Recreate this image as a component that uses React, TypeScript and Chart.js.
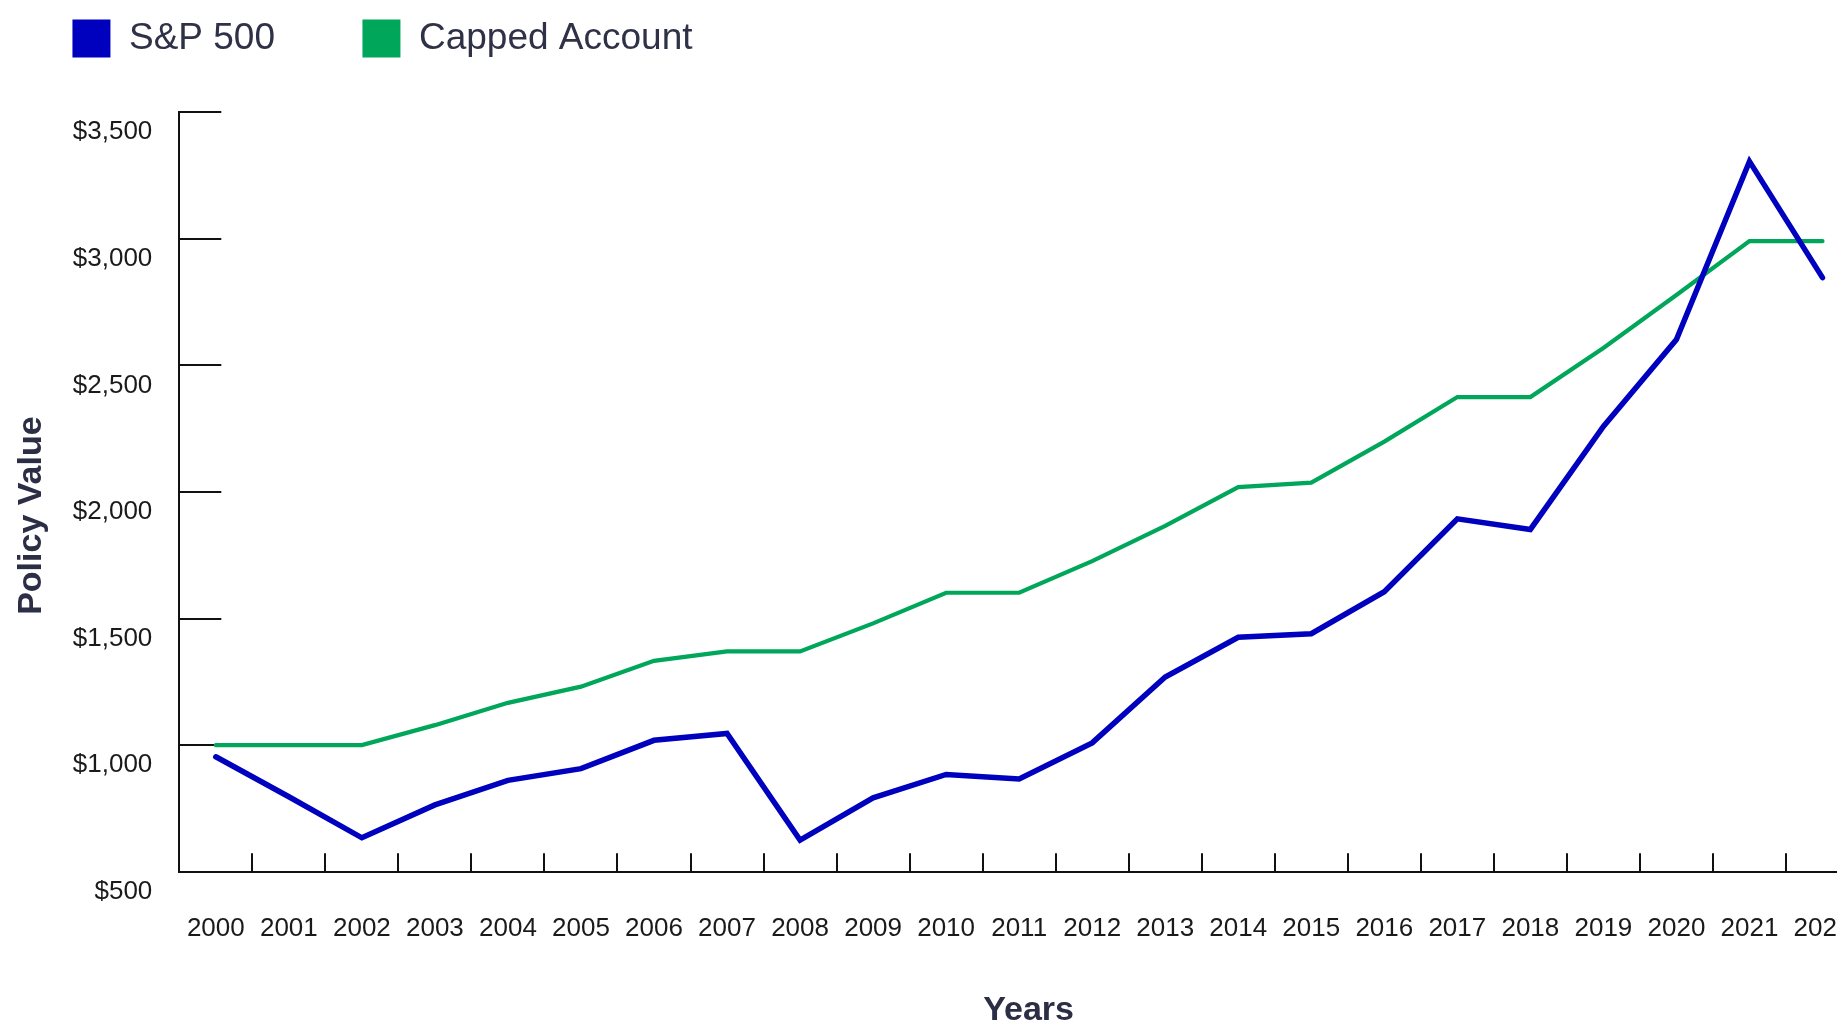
import React, { useEffect, useRef } from 'react';
import { Chart, registerables } from 'chart.js';

Chart.register(...registerables);

// ---------- data ----------
const years = ['2000', '2001', '2002', '2003', '2004', '2005', '2006', '2007', '2008', '2009', '2010', '2011',
  '2012', '2013', '2014', '2015', '2016', '2017', '2018', '2019', '2020', '2021', '2022'];
const sp500Values = [954, 796, 634, 764, 861, 907, 1019, 1046, 625, 792, 884, 866,
  1009, 1269, 1426, 1440, 1606, 1894, 1852, 2259, 2602, 3306, 2847];
const cappedValues = [1000, 1000, 1000, 1079, 1167, 1231, 1333, 1370, 1370, 1481, 1602, 1602,
  1727, 1866, 2019, 2037, 2199, 2375, 2375, 2569, 2778, 2991, 2991];
const seriesNames = ['S&P 500', 'Capped Account'];
const yMin = 500;
const yMax = 3500;
const yStep = 500;
const xAxisTitle = 'Years';
const yAxisTitle = 'Policy Value';

// ---------- style / layout (real page px) ----------
const BLUE = '#0000BF';
const GREEN = '#00A65A';
const AXIS = '#111111';
const TEXT_DARK = '#2B2E44';
const VIEW_H = 1022;
const AREA_LEFT = 179.3;
const AREA_TOP = 112.3;
const AREA_BOTTOM = 871.7;
const CAT_W = 73.02;
const BOX = 38;
const LEG_BOX1_X = 72.7;
const LEG_BOX2_X = 362.7;
const LEG_BOX_Y = 19;
const Y_TICK_LEN = 42;
const X_TICK_LEN = 18.5;

function fontAvailable(name: string) {
  const c = document.createElement('canvas').getContext('2d')!;
  const s = 'S&P 500 Capped Account Years';
  c.font = '40px monospace';
  const a = c.measureText(s).width;
  c.font = `40px "${name}", monospace`;
  const b = c.measureText(s).width;
  return Math.abs(a - b) > 0.5;
}

export default function App() {
  const canvasRef = useRef<HTMLCanvasElement | null>(null);

  useEffect(() => {
    const canvas = canvasRef.current!;
    const narrow = fontAvailable('Liberation Sans Narrow');
    const legendFamily = narrow ? '"Liberation Sans Narrow", "Liberation Sans", Arial, sans-serif' : '"Liberation Sans", Arial, sans-serif';
    const legendSize = narrow ? 42 : 37;
    const titleFamily = legendFamily;
    const titleSize = narrow ? 40 : 34;

    // measure first legend text to place the second item
    const mctx = document.createElement('canvas').getContext('2d')!;
    mctx.font = `400 ${legendSize}px ${legendFamily}`;
    const w1 = mctx.measureText(seriesNames[0]).width;
    const pad = (LEG_BOX2_X - LEG_BOX1_X) - (BOX + legendSize / 2 + w1);
    const dx = Math.round(pad - LEG_BOX1_X);
    const dy = Math.round(pad + Math.max((legendSize - BOX) / 2, 0) - LEG_BOX_Y);
    const itemH = Math.max(legendSize, BOX);
    const legendBottom = itemH + pad + 10;
    const spacer = AREA_TOP + dy - legendBottom;

    const areaRight = AREA_LEFT + CAT_W * years.length;
    const W = Math.ceil(areaRight + dx);
    const H = VIEW_H + dy;
    canvas.width = W;
    canvas.height = H;
    canvas.style.width = W + 'px';
    canvas.style.height = H + 'px';
    canvas.style.left = -dx + 'px';
    canvas.style.top = -dy + 'px';

    const inwardTicks = {
      id: 'inwardTicks',
      beforeDatasetsDraw(chart: any) {
        const { ctx, chartArea, scales } = chart;
        const xs = scales.x;
        const ys = scales.y;
        ctx.save();
        ctx.strokeStyle = AXIS;
        ctx.lineWidth = 2;
        ctx.beginPath();
        ys.ticks.forEach((t: any) => {
          if (t.value <= ys.min) return;
          const py = Math.round(ys.getPixelForValue(t.value));
          ctx.moveTo(chartArea.left, py);
          ctx.lineTo(chartArea.left + Y_TICK_LEN, py);
        });
        for (let i = 0; i < xs.ticks.length; i++) {
          const a = xs.getPixelForTick(i);
          const b = i + 1 < xs.ticks.length ? xs.getPixelForTick(i + 1) : a + (a - xs.getPixelForTick(i - 1));
          const px = Math.round((a + b) / 2);
          ctx.moveTo(px, chartArea.bottom);
          ctx.lineTo(px, chartArea.bottom - X_TICK_LEN);
        }
        ctx.stroke();
        ctx.restore();
      },
    };

    const chart = new Chart(canvas, {
      type: 'line',
      data: {
        labels: years,
        datasets: [
          {
            label: seriesNames[0],
            data: sp500Values,
            borderColor: BLUE,
            backgroundColor: BLUE,
            borderWidth: 5.5,
            pointRadius: 0,
            tension: 0,
            borderJoinStyle: 'miter',
            borderCapStyle: 'round',
          },
          {
            label: seriesNames[1],
            data: cappedValues,
            borderColor: GREEN,
            backgroundColor: GREEN,
            borderWidth: 4.2,
            pointRadius: 0,
            tension: 0,
            borderJoinStyle: 'miter',
            borderCapStyle: 'round',
          },
        ],
      },
      options: {
        responsive: false,
        animation: false,
        layout: { padding: 0 },
        plugins: {
          tooltip: { enabled: false },
          legend: {
            display: true,
            position: 'top',
            align: 'start',
            labels: {
              boxWidth: BOX,
              boxHeight: BOX,
              padding: pad,
              color: '#2F3247',
              font: { family: legendFamily, size: legendSize, weight: '400' as any },
              generateLabels: (c: any) =>
                (Chart.defaults.plugins.legend.labels.generateLabels as any)(c).map((l: any) => ({ ...l, lineWidth: 0 })),
            },
          },
          title: {
            display: true,
            text: '',
            weight: 500,
            font: { size: 1, lineHeight: 1 },
            padding: { top: Math.max(spacer - 1, 0), bottom: 0 },
          } as any,
        },
        scales: {
          x: {
            type: 'category',
            offset: true,
            grid: { display: false, drawTicks: false, offset: true },
            border: { display: true, color: AXIS, width: 2 },
            ticks: {
              autoSkip: false,
              maxRotation: 0,
              minRotation: 0,
              padding: 41.5,
              color: '#1A1A1A',
              font: { family: '"Liberation Sans", Arial, sans-serif', size: 26 },
            },
            title: {
              display: true,
              text: '  ' + xAxisTitle,
              color: TEXT_DARK,
              font: { family: titleFamily, size: titleSize, weight: 'bold', lineHeight: 1 },
              padding: { top: 0, bottom: -6 },
            },
            afterFit: (s: any) => {
              s.height = H - (AREA_BOTTOM + dy);
              s.paddingLeft = 0;
              s.paddingRight = 0;
            },
          },
          y: {
            type: 'linear',
            min: yMin,
            max: yMax,
            grid: { display: false, drawTicks: false },
            border: { display: true, color: AXIS, width: 2 },
            ticks: {
              stepSize: yStep,
              padding: 27,
              labelOffset: 20,
              color: '#1A1A1A',
              font: { family: '"Liberation Sans", Arial, sans-serif', size: 26 },
              callback: (v: any) => '$' + Number(v).toLocaleString('en-US'),
            },
            title: {
              display: true,
              text: yAxisTitle + '     ',
              color: TEXT_DARK,
              font: { family: titleFamily, size: titleSize, weight: 'bold', lineHeight: 1 },
              padding: { top: 32 + dx - titleSize / 2, bottom: 0 },
            },
            afterFit: (s: any) => {
              s.width = AREA_LEFT + dx;
              s.paddingTop = 0;
              s.paddingBottom = 0;
            },
          },
        },
      },
      plugins: [inwardTicks],
    });

    return () => {
      chart.destroy();
    };
  }, []);

  return (
    <div
      style={{
        position: 'fixed',
        left: 0,
        top: 0,
        width: '100vw',
        height: '100vh',
        overflow: 'hidden',
        background: '#ffffff',
      }}
    >
      <canvas ref={canvasRef} style={{ position: 'absolute', display: 'block' }} />
    </div>
  );
}
